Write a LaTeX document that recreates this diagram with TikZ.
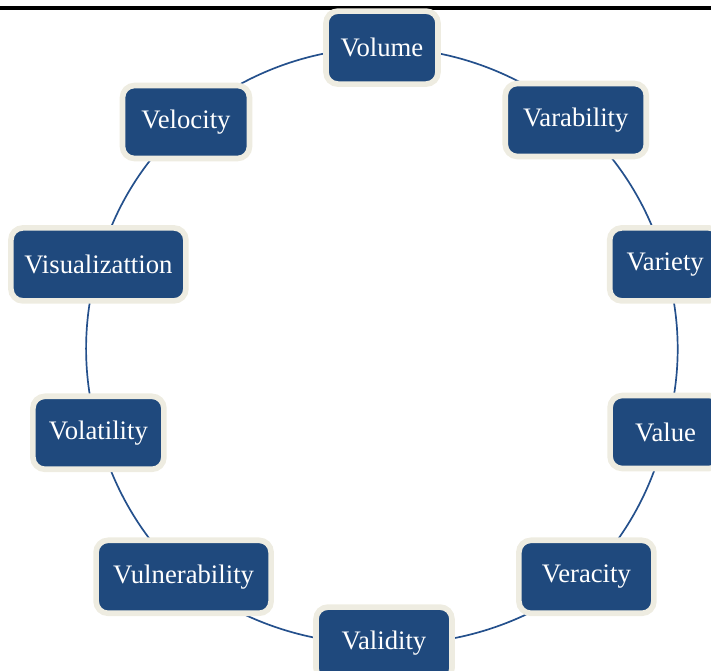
\documentclass[tikz,border=0pt]{standalone}
\usepackage{fontspec}
\setmainfont{Liberation Serif}
\usetikzlibrary{calc}
\usetikzlibrary{backgrounds}

\definecolor{boxBlue}{HTML}{1F497D}
\definecolor{boxRim}{HTML}{EEECE1}
\definecolor{ringBlue}{HTML}{24508C}

\tikzset{
	vbox/.style = {rectangle, rounded corners = 3mm, fill = boxBlue, draw = boxRim, line width = 4pt, minimum height = 1.825cm, inner sep = 0pt, text = white, font = \fontsize{19}{23}\selectfont},
	ring/.style = {draw = ringBlue, line width = 1.2pt, looseness = 0.88}
}

\begin{document}
\begin{tikzpicture}

	% frame of the picture
	\useasboundingbox (-9.55,-8.135) rectangle (8.225,8.64);

	% rule at the top
	\def \ruleHeight {8.44};
	\draw [line width = 2.85pt] (-9.55,\ruleHeight) -- (8.225,\ruleHeight);

	% the ten boxes, clockwise from the top
	\node [vbox, minimum width = 2.8cm] (volume) at (0,7.45) {Volume};
	\node [vbox, minimum width = 3.525cm] (varability) at (4.845,5.64) {Varability};
	\node [vbox, minimum width = 2.775cm] (variety) at (7.08,2.03) {Variety};
	\node [vbox, minimum width = 2.775cm] (value) at (7.09,-2.16) {Value};
	\node [vbox, minimum width = 3.375cm] (veracity) at (5.11,-5.78) {Veracity};
	\node [vbox, minimum width = 3.4cm] (validity) at (0.05,-7.45) {Validity};
	\node [vbox, minimum width = 4.375cm] (vulnerability) at (-4.96,-5.78) {Vulnerability};
	\node [vbox, minimum width = 3.275cm] (volatility) at (-7.09,-2.18) {Volatility};
	\node [vbox, minimum width = 4.375cm] (visualization) at (-7.09,2.03) {Visualizattion};
	\node [vbox, minimum width = 3.175cm] (velocity) at (-4.9,5.59) {Velocity};

	% ring joining the boxes, kept behind them
	\begin{pgfonlayer}{background}
	\foreach \src/\dst/\bend in {volume/varability/20, varability/variety/16.5, variety/value/16.5, value/veracity/16,
		veracity/validity/20.5, validity/vulnerability/20, vulnerability/volatility/16, volatility/visualization/16.5,
		visualization/velocity/16.5, velocity/volume/20.5}
		\draw [ring] (\src.center) to [bend left = \bend] (\dst.center);
	\end{pgfonlayer}

\end{tikzpicture}
\end{document}
